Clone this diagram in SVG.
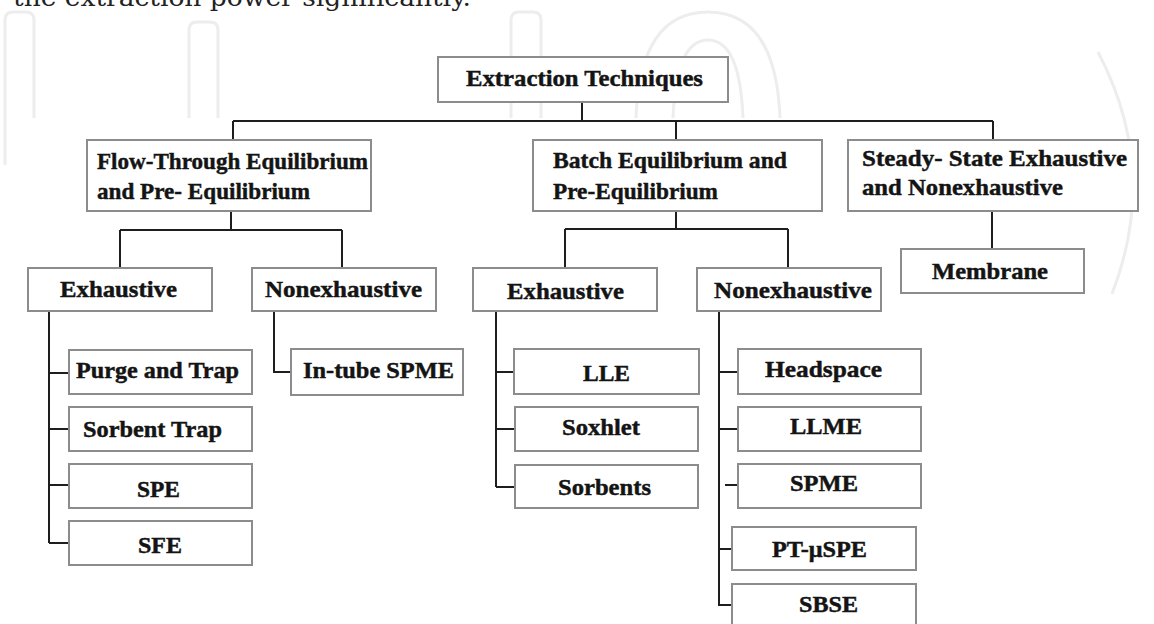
<svg xmlns="http://www.w3.org/2000/svg" width="1154" height="624" viewBox="0 0 1154 624">
<style>
.box{fill:#fff;stroke:#8c8c8c;stroke-width:2}
.t{font-family:"Liberation Serif","Times New Roman",serif;font-weight:bold;font-size:24px;fill:#141414;stroke:#141414;stroke-width:0.45}
.c{fill:none;stroke:#1e1e1e;stroke-width:2}
.wm{fill:none;stroke:#ededed;stroke-width:3}
</style>
<rect width="1154" height="624" fill="#fff"/>
<g id="watermark">
<path class="wm" d="M5,165 V20 Q5,12 13,12 H26 Q34,12 34,20 V118"/>
<path class="wm" d="M189,118 V30 Q189,22 197,22 H210 Q218,22 218,30 V118"/>
<path class="wm" d="M511,118 V20 Q511,12 519,12 H533 Q541,12 541,20 V118"/>
<path class="wm" d="M636,118 Q640,12 708,12 Q776,12 780,118"/>
<path class="wm" d="M673,118 Q676,40 708,40 Q740,40 743,118"/>
<path class="wm" d="M1098,52 Q1160,170 1112,294"/>
</g>
<text x="13" y="6" font-family="'DejaVu Serif','Liberation Serif',serif" font-size="24" fill="#222" textLength="458" lengthAdjust="spacingAndGlyphs">the extraction power significantly.</text>
<g id="connectors">
<path class="c" d="M582,102 V121 M233,121 H993 M233,121 V140 M676,121 V140 M993,121 V140"/>
<path class="c" d="M231,211 V230 M120,230 H342 M120,230 V268 M342,230 V268"/>
<path class="c" d="M676,211 V229 M565,229 H788 M565,229 V268 M788,229 V268"/>
<path class="c" d="M992,211 V249"/>
<path class="c" d="M49,311 V543 M49,373 H69 M49,429 H69 M49,485 H69 M49,543 H69"/>
<path class="c" d="M274,311 V372 H291"/>
<path class="c" d="M496,311 V487 M496,372 H514 M496,429 H514 M496,487 H514"/>
<path class="c" d="M719,311 V605 H732 M719,372 H738 M719,429 H738 M725,485 H738 M719,549 H732"/>
</g>
<g id="n-root"><rect class="box" x="438" y="57" width="290" height="45"/><text class="t" x="466" y="86" textLength="237" lengthAdjust="spacingAndGlyphs">Extraction Techniques</text></g>
<g id="n-flow"><rect class="box" x="87" y="140" width="284" height="71"/><text class="t" x="97" y="169" textLength="271" lengthAdjust="spacingAndGlyphs">Flow-Through Equilibrium</text><text class="t" x="97" y="199" textLength="213" lengthAdjust="spacingAndGlyphs">and Pre- Equilibrium</text></g>
<g id="n-batch"><rect class="box" x="533" y="140" width="289" height="71"/><text class="t" x="553" y="168" textLength="234" lengthAdjust="spacingAndGlyphs">Batch Equilibrium and</text><text class="t" x="553" y="199" textLength="165" lengthAdjust="spacingAndGlyphs">Pre-Equilibrium</text></g>
<g id="n-steady"><rect class="box" x="848" y="140" width="290" height="71"/><text class="t" x="862" y="166" textLength="265" lengthAdjust="spacingAndGlyphs">Steady- State Exhaustive</text><text class="t" x="862" y="195" textLength="201" lengthAdjust="spacingAndGlyphs">and Nonexhaustive</text></g>
<g id="n-membrane"><rect class="box" x="901" y="249" width="183" height="44"/><text class="t" x="932" y="279" textLength="116" lengthAdjust="spacingAndGlyphs">Membrane</text></g>
<g id="n-fexh"><rect class="box" x="28" y="268" width="184" height="43"/><text class="t" x="60" y="297" textLength="117" lengthAdjust="spacingAndGlyphs">Exhaustive</text></g>
<g id="n-fnon"><rect class="box" x="252" y="268" width="184" height="43"/><text class="t" x="265" y="297" textLength="157" lengthAdjust="spacingAndGlyphs">Nonexhaustive</text></g>
<g id="n-purge"><rect class="box" x="69" y="350" width="183" height="44"/><text class="t" x="76" y="378" textLength="163" lengthAdjust="spacingAndGlyphs">Purge and Trap</text></g>
<g id="n-sorbtrap"><rect class="box" x="69" y="407" width="183" height="44"/><text class="t" x="83" y="437" textLength="139" lengthAdjust="spacingAndGlyphs">Sorbent Trap</text></g>
<g id="n-spe"><rect class="box" x="69" y="464" width="183" height="44"/><text class="t" x="137" y="497" textLength="43" lengthAdjust="spacingAndGlyphs">SPE</text></g>
<g id="n-sfe"><rect class="box" x="69" y="521" width="183" height="44"/><text class="t" x="138" y="553" textLength="44" lengthAdjust="spacingAndGlyphs">SFE</text></g>
<g id="n-intube"><rect class="box" x="291" y="349" width="172" height="46"/><text class="t" x="303" y="378" textLength="151" lengthAdjust="spacingAndGlyphs">In-tube SPME</text></g>
<g id="n-bexh"><rect class="box" x="473" y="268" width="184" height="43"/><text class="t" x="507" y="299" textLength="117" lengthAdjust="spacingAndGlyphs">Exhaustive</text></g>
<g id="n-bnon"><rect class="box" x="697" y="268" width="184" height="43"/><text class="t" x="714" y="298" textLength="158" lengthAdjust="spacingAndGlyphs">Nonexhaustive</text></g>
<g id="n-lle"><rect class="box" x="514" y="349" width="185" height="45"/><text class="t" x="583" y="381" textLength="47" lengthAdjust="spacingAndGlyphs">LLE</text></g>
<g id="n-soxhlet"><rect class="box" x="515" y="407" width="183" height="44"/><text class="t" x="562" y="435" textLength="78" lengthAdjust="spacingAndGlyphs">Soxhlet</text></g>
<g id="n-sorbents"><rect class="box" x="515" y="465" width="183" height="43"/><text class="t" x="558" y="495" textLength="93" lengthAdjust="spacingAndGlyphs">Sorbents</text></g>
<g id="n-headspace"><rect class="box" x="738" y="349" width="183" height="45"/><text class="t" x="765" y="377" textLength="117" lengthAdjust="spacingAndGlyphs">Headspace</text></g>
<g id="n-llme"><rect class="box" x="738" y="407" width="183" height="44"/><text class="t" x="790" y="434" textLength="72" lengthAdjust="spacingAndGlyphs">LLME</text></g>
<g id="n-spme"><rect class="box" x="738" y="464" width="183" height="44"/><text class="t" x="790" y="491" textLength="68" lengthAdjust="spacingAndGlyphs">SPME</text></g>
<g id="n-ptuspe"><rect class="box" x="732" y="527" width="184" height="43"/><text class="t" x="772" y="557" textLength="95" lengthAdjust="spacingAndGlyphs">PT-μSPE</text></g>
<g id="n-sbse"><rect class="box" x="732" y="584" width="184" height="50"/><text class="t" x="799" y="612" textLength="59" lengthAdjust="spacingAndGlyphs">SBSE</text></g>
</svg>
